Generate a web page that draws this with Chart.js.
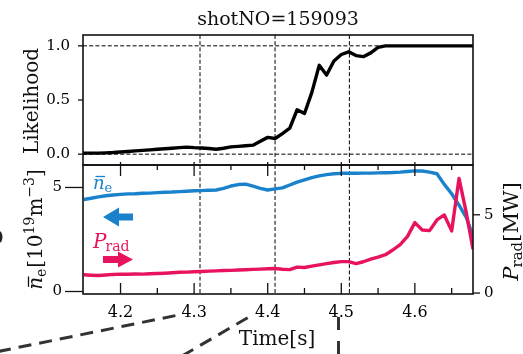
<!DOCTYPE html>
<html>
<head>
<meta charset="utf-8">
<script src="https://cdn.jsdelivr.net/npm/chart.js@4.4.1/dist/chart.umd.min.js"></script>
<style>
html,body{margin:0;padding:0;background:#ffffff;}
#wrap{position:relative;width:523px;height:354px;overflow:hidden;background:#fff;}
canvas{position:absolute;left:0;top:0;}
</style>
</head>
<body>
<div id="wrap">
<canvas id="cTop" width="523" height="354"></canvas>
<canvas id="cBot" width="523" height="354"></canvas>
</div>
<script>
// ---------------- data ----------------
const titleText = 'shotNO=159093';
const times = [4.15,4.16,4.17,4.18,4.19,4.20,4.21,4.22,4.23,4.24,
               4.25,4.26,4.27,4.28,4.29,4.30,4.31,4.32,4.33,4.34,
               4.35,4.36,4.37,4.38,4.39,4.40,4.41,4.42,4.43,4.44,
               4.45,4.46,4.47,4.48,4.49,4.50,4.51,4.52,4.53,4.54,
               4.55,4.56,4.57,4.58,4.59,4.60,4.61,4.62,4.63,4.64,
               4.65,4.66,4.67,4.679];
const likelihood = [0.010,0.010,0.010,0.012,0.015,0.020,0.025,0.030,0.035,0.040,
                    0.045,0.050,0.055,0.060,0.065,0.060,0.057,0.052,0.045,0.055,
                    0.067,0.072,0.078,0.083,0.120,0.155,0.145,0.190,0.240,0.410,
                    0.375,0.570,0.820,0.730,0.860,0.920,0.945,0.910,0.900,0.935,
                    0.985,1.0,1.0,1.0,1.0,1.0,1.0,1.0,1.0,1.0,
                    1.0,1.0,1.0,1.0];
const neBar = [4.42,4.48,4.55,4.60,4.64,4.67,4.69,4.70,4.72,4.73,
               4.75,4.77,4.78,4.80,4.82,4.84,4.85,4.87,4.88,4.96,
               5.07,5.14,5.16,5.06,4.96,4.88,4.93,4.98,5.12,5.26,
               5.37,5.47,5.56,5.62,5.66,5.68,5.68,5.68,5.69,5.69,
               5.70,5.71,5.72,5.74,5.77,5.80,5.79,5.74,5.66,5.15,
               4.70,4.15,3.55,2.65];
const pRad = [1.17,1.14,1.12,1.15,1.19,1.21,1.20,1.22,1.21,1.23,
              1.25,1.27,1.30,1.33,1.34,1.36,1.38,1.40,1.42,1.44,
              1.45,1.47,1.49,1.51,1.53,1.55,1.57,1.52,1.50,1.66,
              1.63,1.72,1.80,1.88,1.95,2.01,2.01,1.88,2.00,2.17,
              2.30,2.45,2.75,3.10,3.62,4.50,4.03,3.99,4.67,4.99,
              3.97,7.32,5.10,2.80];
const refTimes = [4.308, 4.41, 4.511];
const xMajorTicks = [4.2, 4.3, 4.4, 4.5, 4.6];
const xMinorTicks = [4.25, 4.35, 4.45, 4.55, 4.65];
const likTicks = [0.0, 0.5, 1.0];
const likRefLines = [0.0, 1.0];
const neTicks = [0, 5];
const pradTicks = [0, 5];
const xRange = [4.149, 4.679];
const likRange = [-0.1, 1.1];
const neRange = [-0.12, 6.08];
const pradRange = [-0.06, 8.18];

// ---------------- style ----------------
const FONT = '"DejaVu Serif", "Liberation Serif", serif';
const BLUE = '#1a82cc';
const PINK = '#e8135f';
const INK = '#111111';
const LW = 3.4;

function pts(ys){ return times.map((t,i)=>({x:t, y:ys[i]})); }

function rich(ctx, segs, x, y, rot, align){
  ctx.save(); ctx.translate(x,y); ctx.rotate(rot||0);
  ctx.textBaseline='alphabetic'; ctx.textAlign='left';
  let tot=0;
  segs.forEach(s=>{ctx.font=s.f; s.w=ctx.measureText(s.t).width; tot+=s.w+(s.k||0);});
  let cx = align==='left' ? 0 : -tot/2;
  segs.forEach(s=>{
    ctx.font=s.f; ctx.fillStyle=s.c||INK;
    ctx.fillText(s.t, cx, s.dy||0);
    if(s.bar){
      ctx.strokeStyle=s.c||INK; ctx.lineWidth=1.3;
      ctx.beginPath(); ctx.moveTo(cx+s.bar[0], s.bar[2]); ctx.lineTo(cx+s.w+s.bar[1], s.bar[2]); ctx.stroke();
    }
    cx += s.w+(s.k||0);
  });
  ctx.restore();
}

function line(ctx,x1,y1,x2,y2,w,color,dash){
  ctx.save(); ctx.beginPath(); ctx.setLineDash(dash||[]); ctx.lineWidth=w; ctx.strokeStyle=color;
  ctx.moveTo(x1,y1); ctx.lineTo(x2,y2); ctx.stroke(); ctx.restore();
}

function xScaleCfg(show){
  return {
    type:'linear', min:xRange[0], max:xRange[1], display:show,
    grid:{display:false, drawTicks:false}, border:{display:false},
    ticks:{display:show, autoSkip:false, maxRotation:0, minRotation:0,
      font:{family:FONT, size:16}, color:'#000', padding:9,
      callback:v=>Number(v).toFixed(1)},
    afterBuildTicks:s=>{ s.ticks = xMajorTicks.map(v=>({value:v})); },
    afterFit:s=>{ if(show) s.height = 60; }
  };
}

function frameAndV(chart){
  const ctx=chart.ctx, a=chart.chartArea, xs=chart.scales.x;
  refTimes.forEach(t=>{ const px=xs.getPixelForValue(t); line(ctx,px,a.top,px,a.bottom,1,'#000',[4,2.2]); });
}

const topPlugin = {
  id:'topDecor',
  beforeDatasetsDraw(chart){
    const ctx=chart.ctx, a=chart.chartArea, ys=chart.scales.y;
    likRefLines.forEach(v=>{ const py=ys.getPixelForValue(v); line(ctx,a.left,py,a.right,py,1,'#000',[4,2.2]); });
    frameAndV(chart);
  },
  afterDraw(chart){
    const ctx=chart.ctx, a=chart.chartArea, xs=chart.scales.x, ys=chart.scales.y;
    ctx.save();
    ctx.strokeStyle=INK; ctx.lineWidth=1.6;
    ctx.strokeRect(a.left, a.top, a.right-a.left, a.bottom-a.top);
    ctx.lineWidth=1.3;
    xMajorTicks.forEach(v=>{ const px=xs.getPixelForValue(v); ctx.beginPath(); ctx.moveTo(px,a.bottom); ctx.lineTo(px,a.bottom-3); ctx.stroke(); });
    likTicks.forEach(v=>{ const py=ys.getPixelForValue(v); ctx.beginPath(); ctx.moveTo(a.left,py); ctx.lineTo(a.left-5,py); ctx.stroke(); });
    ctx.restore();
    // title
    ctx.save(); ctx.font='19px '+FONT; ctx.fillStyle=INK; ctx.textAlign='center'; ctx.textBaseline='alphabetic';
    ctx.fillText(titleText, (a.left+a.right)/2, 25); ctx.restore();
    // y label
    rich(ctx, [{t:'Likelihood', f:'20px '+FONT}], 38, (a.top+a.bottom)/2+1, -Math.PI/2);
  }
};

const botPlugin = {
  id:'botDecor',
  beforeDatasetsDraw(chart){ frameAndV(chart); },
  afterDraw(chart){
    const ctx=chart.ctx, a=chart.chartArea, xs=chart.scales.x, yl=chart.scales.y, yr=chart.scales.y2;
    ctx.save();
    ctx.strokeStyle=INK; ctx.lineWidth=1.6;
    ctx.strokeRect(a.left, a.top, a.right-a.left, a.bottom-a.top);
    ctx.lineWidth=1.3;
    xMajorTicks.forEach(v=>{ const px=xs.getPixelForValue(v);
      ctx.beginPath(); ctx.moveTo(px,a.bottom); ctx.lineTo(px,a.bottom-11); ctx.stroke();
      ctx.beginPath(); ctx.moveTo(px,a.top); ctx.lineTo(px,a.top+11); ctx.stroke(); });
    xMinorTicks.forEach(v=>{ const px=xs.getPixelForValue(v);
      ctx.beginPath(); ctx.moveTo(px,a.bottom); ctx.lineTo(px,a.bottom-6); ctx.stroke();
      ctx.beginPath(); ctx.moveTo(px,a.top); ctx.lineTo(px,a.top+5); ctx.stroke(); });
    neTicks.forEach(v=>{ const py=yl.getPixelForValue(v); ctx.beginPath(); ctx.moveTo(a.left,py); ctx.lineTo(a.left-18,py); ctx.stroke(); });
    pradTicks.forEach(v=>{ const py=yr.getPixelForValue(v); ctx.beginPath(); ctx.moveTo(a.right,py); ctx.lineTo(a.right+7,py); ctx.stroke(); });
    ctx.restore();

    // in-plot labels
    const lx = a.left+10;
    rich(ctx, [{t:'n', f:'italic 18px '+FONT, c:BLUE, bar:[2.5,0.5,-12.5]}, {t:'e', f:'13px '+FONT, c:BLUE, dy:3}], lx, a.top+24, 0, 'left');
    rich(ctx, [{t:'P', f:'italic 20px '+FONT, c:PINK, k:-1}, {t:'rad', f:'14px '+FONT, c:PINK, dy:3}], lx, a.top+83, 0, 'left');
    // arrows
    ctx.save();
    ctx.fillStyle=BLUE; let cy=a.top+52;
    ctx.beginPath(); ctx.moveTo(a.left+20,cy); ctx.lineTo(a.left+36,cy-9.5); ctx.lineTo(a.left+36,cy-3.5); ctx.lineTo(a.left+50,cy-3.5);
    ctx.lineTo(a.left+50,cy+3.5); ctx.lineTo(a.left+36,cy+3.5); ctx.lineTo(a.left+36,cy+9.5); ctx.closePath(); ctx.fill();
    ctx.fillStyle=PINK; cy=a.top+94.5;
    ctx.beginPath(); ctx.moveTo(a.left+50,cy); ctx.lineTo(a.left+35,cy-8); ctx.lineTo(a.left+35,cy-3.5); ctx.lineTo(a.left+20,cy-3.5);
    ctx.lineTo(a.left+20,cy+3.5); ctx.lineTo(a.left+35,cy+3.5); ctx.lineTo(a.left+35,cy+8); ctx.closePath(); ctx.fill();
    ctx.restore();

    // axis labels
    const midY = (a.top+a.bottom)/2;
    rich(ctx, [
      {t:'n', f:'italic 20px '+FONT, bar:[3,0.5,-13.5]},
      {t:'e', f:'14px '+FONT, dy:4, k:1},
      {t:'[10', f:'20px '+FONT},
      {t:'19', f:'14px '+FONT, dy:-8},
      {t:'m', f:'20px '+FONT},
      {t:'\u22123', f:'14px '+FONT, dy:-8},
      {t:']', f:'20px '+FONT}
    ], 42, midY, -Math.PI/2);
    rich(ctx, [
      {t:'P', f:'italic 21px '+FONT, k:-1},
      {t:'rad', f:'15px '+FONT, dy:4},
      {t:'[MW]', f:'21px '+FONT}
    ], 518, midY+2, -Math.PI/2);
    ctx.save(); ctx.font='20px '+FONT; ctx.fillStyle=INK; ctx.textAlign='center'; ctx.textBaseline='alphabetic';
    ctx.fillText('Time[s]', (a.left+a.right)/2-1, 345); ctx.restore();

    // fragments of the surrounding figure (zoom connector lines)
    const dcol='#333333';
    line(ctx, -2, 351.5, 176, 315.5, 3, dcol, [13,8]);
    line(ctx, 182, 356, 248, 317.5, 3, dcol, [13,8]);
    line(ctx, 338.5, 317, 338.5, 356, 3, dcol, [13,11]);
    ctx.save(); ctx.fillStyle='#222'; ctx.beginPath(); ctx.ellipse(-1, 237, 3.5, 6, 0, 0, Math.PI*2); ctx.fill(); ctx.restore();
  }
};

new Chart(document.getElementById('cTop'), {
  type:'line',
  data:{datasets:[{data:pts(likelihood), borderColor:'#000', borderWidth:LW, pointRadius:0, tension:0, fill:false, borderJoinStyle:'round', borderCapStyle:'round'}]},
  options:{
    responsive:false, animation:false, events:[],
    layout:{autoPadding:false, padding:{top:35, bottom:189, left:0, right:50}},
    plugins:{legend:{display:false}, tooltip:{enabled:false}},
    scales:{
      x: xScaleCfg(false),
      y:{type:'linear', position:'left', min:likRange[0], max:likRange[1],
        grid:{display:false, drawTicks:false}, border:{display:false},
        ticks:{font:{family:FONT, size:15}, color:'#000', padding:13, callback:v=>Number(v).toFixed(1)},
        afterBuildTicks:s=>{ s.ticks = likTicks.map(v=>({value:v})); },
        afterFit:s=>{ s.width = 83; }}
    }
  },
  plugins:[topPlugin]
});

new Chart(document.getElementById('cBot'), {
  type:'line',
  data:{datasets:[
    {data:pts(pRad), yAxisID:'y2', borderColor:PINK, borderWidth:LW, pointRadius:0, tension:0, fill:false, borderJoinStyle:'round'},
    {data:pts(neBar), yAxisID:'y', borderColor:BLUE, borderWidth:LW, pointRadius:0, tension:0, fill:false, borderJoinStyle:'round'}
  ]},
  options:{
    responsive:false, animation:false, events:[],
    layout:{autoPadding:false, padding:{top:165, bottom:0, left:0, right:0}},
    plugins:{legend:{display:false}, tooltip:{enabled:false}},
    scales:{
      x: xScaleCfg(true),
      y:{type:'linear', position:'left', min:neRange[0], max:neRange[1],
        grid:{display:false, drawTicks:false}, border:{display:false},
        ticks:{font:{family:FONT, size:15}, color:'#000', padding:21, callback:v=>String(v)},
        afterBuildTicks:s=>{ s.ticks = neTicks.map(v=>({value:v})); },
        afterFit:s=>{ s.width = 83; }},
      y2:{type:'linear', position:'right', min:pradRange[0], max:pradRange[1],
        grid:{display:false, drawTicks:false}, border:{display:false},
        ticks:{font:{family:FONT, size:15}, color:'#000', padding:11, callback:v=>String(v)},
        afterBuildTicks:s=>{ s.ticks = pradTicks.map(v=>({value:v})); },
        afterFit:s=>{ s.width = 50; }}
    }
  },
  plugins:[botPlugin]
});
</script>
</body>
</html>
